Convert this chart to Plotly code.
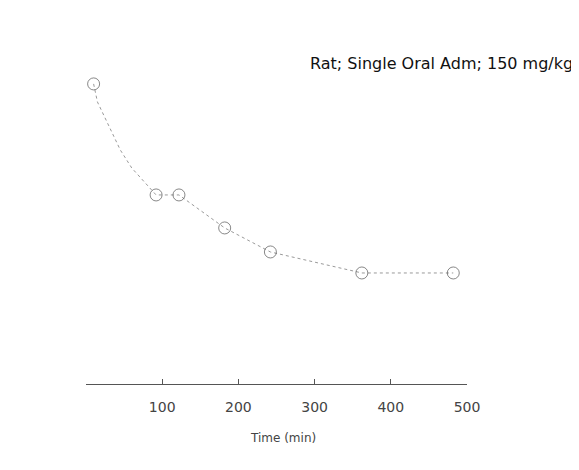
import plotly.graph_objects as go

# Data (y in arbitrary units)
time_min = [10, 15, 30, 45, 60, 92, 122, 182, 242, 362, 482]
level = [100, 94, 86, 78, 72, 63, 63, 52, 44, 37, 37]
x_ticks = [100, 200, 300, 400, 500]
title_text = "Rat; Single Oral Adm; 150 mg/kg"
x_title = "Time (min)"

W, H = 571, 462
L, R, T, B = 78, 112, 33, 86
pw, ph = W - L - R, H - T - B

# markers visible only where the reference still shows circles
marker_sizes = [12, 0, 0, 0, 0, 12, 12, 12, 12, 12, 12]

fig = go.Figure()
fig.add_trace(go.Scatter(
    x=time_min, y=level, mode="lines+markers",
    line=dict(color="#9a9a9a", width=1, dash="dot"),
    marker=dict(symbol="circle-open", size=marker_sizes, color="#555555", line=dict(width=1)),
    showlegend=False,
))

fig.update_layout(
    width=W, height=H,
    margin=dict(l=L, r=R, t=T, b=B),
    paper_bgcolor="white", plot_bgcolor="white",
    font=dict(family="DejaVu Sans, Arial, sans-serif", color="#333333"),
    xaxis=dict(
        range=[0, 500], tickvals=x_ticks, ticktext=[str(v) for v in x_ticks],
        showline=True, linecolor="#555555", linewidth=1,
        ticks="inside", ticklen=5, tickcolor="#555555",
        showgrid=False, zeroline=False,
        ticklabelstandoff=10,
        tickfont=dict(size=14, color="#444444"),
    ),
    yaxis=dict(
        range=[0, 114.3], showline=False, showticklabels=False,
        ticks="", showgrid=False, zeroline=False,
    ),
    annotations=[
        dict(
            text=title_text, xref="paper", yref="paper",
            x=(567 - L) / pw, y=(375 - 54) / ph, xanchor="right", yanchor="middle",
            showarrow=False, font=dict(size=16, color="#111111",
                                        family="DejaVu Sans, Arial, sans-serif"),
        ),
        dict(
            text=x_title, xref="paper", yref="paper",
            x=(275 - L) / pw, y=-(429 - 375) / ph, xanchor="center", yanchor="middle",
            showarrow=False, font=dict(size=12, color="#444444",
                                        family="DejaVu Sans, Arial, sans-serif"),
        ),
    ],
)

fig.write_html("out.html")
